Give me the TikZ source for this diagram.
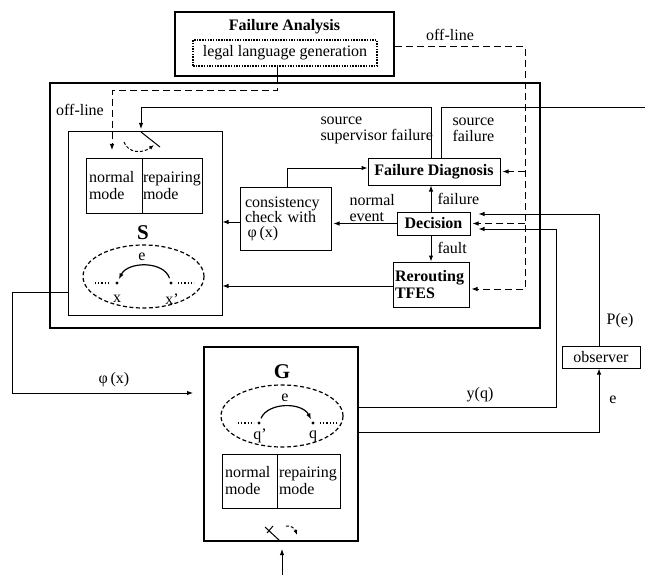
\documentclass[tikz,border=0pt]{standalone}
\usepackage{fontspec}
\setmainfont{Liberation Serif}
\usetikzlibrary{arrows.meta,shapes.geometric}

\newcommand{\dfont}{\fontsize{16}{17}\selectfont}

\begin{document}
\begin{tikzpicture}[x=1pt, y=-1pt, font=\dfont, line width=1pt,
	box/.style={draw, line width=1pt, inner sep=0pt},
	heavybox/.style={draw, line width=2pt, inner sep=0pt},
	modebox/.style={box, minimum height=55pt, align=left, inner xsep=3pt},
	tag/.style={font=\fontsize{21}{21}\selectfont\bfseries},
	ar/.style={-{Latex[length=6pt,width=4.5pt]}},
	offline/.style={dash pattern=on 7pt off 4pt},
	state/.style={circle, fill, inner sep=0pt, minimum size=3.2pt},
	loopset/.style={draw, ellipse, dash pattern=on 4pt off 2.5pt, line width=1.2pt}]
	\useasboundingbox (0,0) rectangle (645,575);

	% failure analysis (off-line part)
	\node[heavybox, minimum width=219pt, minimum height=64pt] (fa) at (284.5,44) {};
	\node[font=\dfont\bfseries] (fatitle) at (284.5,27) {Failure Analysis};
	\node[box, dash pattern=on 1.5pt off 1.2pt, line width=1.2pt, minimum width=184pt, minimum height=26pt] (llg) at (285,53) {legal language generation};

	% supervisor frame
	\node[heavybox, minimum width=490pt, minimum height=245pt] (sup) at (295,205.5) {};
	\node[box, minimum width=154pt, minimum height=183pt] (sbox) at (145,223.5) {};
	\node[modebox, minimum width=56pt, text width=50pt] (snorm) at (114,185.5) {normal\\mode};
	\node[modebox, minimum width=60pt, text width=58pt, inner xsep=1pt] (srep) at (172,185.5) {repairing\\mode};
	\node[tag] (slabel) at (143,233) {S};
	\node[loopset, minimum width=121pt, minimum height=63pt] (sset) at (143.5,276.5) {};
	\node[state] (x) at (117,283) {};
	\node[state] (xp) at (171,283) {};
	\node (xl) at (117,299) {x};
	\node (xpl) at (172,299) {x'};
	\node (se) at (142,257) {e};
	\draw[ar, line width=1.2pt, shorten <=3pt, shorten >=2pt] (xp) .. controls (164,261) and (128,261) .. (x);
	\draw[dotted, line width=1.2pt] (95,283) -- (110,283);
	\draw[dotted, line width=1.2pt] (178,283) -- (194,283);

	% switch on S
	\draw (141,132) -- (160,147);
	\draw[offline, dash pattern=on 3pt off 2pt, -{Latex[length=5pt,width=4pt]}] (124,142) .. controls (128,153) and (142,154) .. (154,145);

	\node[box, minimum width=91pt, minimum height=63pt, text width=81pt, inner xsep=5pt, align=left, font=\fontsize{16}{14.5}\selectfont] (cons) at (285.5,218.5) {consistency\\check with\\\,φ\,(x)};
	\node[box, minimum width=132pt, minimum height=27pt, font=\dfont\bfseries] (fd) at (434,171.5) {Failure Diagnosis};
	\node[box, minimum width=73pt, minimum height=23pt, font=\dfont\bfseries] (dec) at (433.5,223.5) {Decision};
	\node[box, minimum width=76pt, minimum height=45pt, text width=72pt, inner xsep=2pt, align=left, font=\dfont\bfseries] (rr) at (431,284.5) {Rerouting\\TFES};

	% plant
	\node[heavybox, minimum width=154pt, minimum height=194pt] (g) at (281,444) {};
	\node[tag] (glabel) at (282,372) {G};
	\node[loopset, minimum width=122pt, minimum height=62pt] (gset) at (282,416) {};
	\node[state] (qp) at (259,423) {};
	\node[state] (q) at (313,423) {};
	\node (qpl) at (260,436) {q'};
	\node (ql) at (313,436) {q};
	\node (ge) at (285,398) {e};
	\draw[ar, line width=1.2pt, shorten <=3pt, shorten >=2pt] (qp) .. controls (268,402) and (302,402) .. (q);
	\draw[dotted, line width=1.2pt] (238,423) -- (254,423);
	\draw[dotted, line width=1.2pt] (320,423) -- (337,423);
	\node[modebox, minimum width=55pt, minimum height=54pt, text width=49pt] (gnorm) at (249.5,481) {normal\\mode};
	\node[modebox, minimum width=63pt, minimum height=54pt, text width=59pt, inner xsep=2pt] (grep) at (308.5,481) {repairing\\mode};

	% switch on G
	\draw (280,541) -- (265,527);
	\draw (267,533) -- (273,526);
	\draw[dash pattern=on 3pt off 2pt, -{Latex[length=5pt,width=4pt]}] (286,526) .. controls (291,525) and (295,529) .. (297,535);

	\node[box, minimum width=78pt, minimum height=22pt] (obs) at (601,357) {observer};

	% off-line links
	\coordinate (offl) at (277,91);
	\coordinate (offc) at (112,91);
	\coordinate (sin) at (112,150);
	\draw (llg.south -| offl) -- (fa.south -| offl);
	\draw[offline, ar] (fa.south -| offl) -- (offl) -- (offc) -- (sin);
	\node (offlab) at (80,110) {off-line};
	\coordinate (offr) at (525,47);
	\coordinate (dbot) at (525,289);
	\draw[offline, ar] (fa.east |- offr) -- (offr) -- (dbot) -- ([xshift=2pt]rr.east |- dbot);
	\draw[offline, ar] (offr |- fd.east) -- ([xshift=2pt]fd.east);
	\draw[offline, ar] (offr |- dec.east) -- ([xshift=2pt]dec.east);
	\node (offrlab) at (450,35) {off-line};

	% failure sources
	\coordinate (ssrc) at (431,108);
	\coordinate (spiv) at (141,132);
	\draw[ar, shorten >=3pt] (fd.north -| ssrc) -- (ssrc) -| (spiv);
	\node[align=left, anchor=west, font=\fontsize{16}{16}\selectfont, inner sep=0pt] (sslab) at (320,130) {source\\supervisor failure};
	\coordinate (fsrc) at (441,108);
	\coordinate (fout) at (645,108);
	\draw (fd.north -| fsrc) -- (fsrc) -- (fout);
	\node[align=left, anchor=west, font=\fontsize{16}{16}\selectfont, inner sep=0pt] (fslab) at (452,130) {source\\failure};

	% supervisor inner links
	\coordinate (ccor) at (287,168);
	\draw[ar] (cons.north -| ccor) -- (ccor) -- (fd.west |- ccor);
	\coordinate (cs) at (240,222);
	\draw[ar] (cons.west |- cs) -- (sbox.east |- cs);
	\draw[ar, shorten >=2pt] (dec.west) -- (cons.east |- dec.west);
	\node[align=left, anchor=west, font=\fontsize{16}{16}\selectfont, inner sep=0pt] (nelab) at (349,208) {normal\\event};
	\draw[ar] (dec.north -| ssrc) -- (fd.south -| ssrc);
	\node[anchor=west, inner sep=0pt] (flab) at (437,199) {failure};
	\draw[ar] (dec.south -| ssrc) -- (rr.north -| ssrc);
	\node[anchor=west, inner sep=0pt] (ftlab) at (437,248) {fault};
	\coordinate (rs) at (394,286);
	\draw[ar] (rr.west |- rs) -- (sbox.east |- rs);

	% loop between S and G
	\coordinate (phia) at (12,292);
	\coordinate (phib) at (12,393);
	\draw[ar, shorten >=10pt] (sbox.west |- phia) -- (phia) -- (phib) -- (g.west |- phib);
	\node (phlab) at (114,380) {φ\,(x)};
	\coordinate (yqb) at (556,407);
	\coordinate (yqt) at (556,229);
	\draw[ar, shorten >=8pt] (g.east |- yqb) -- (yqb) -- (yqt) -- (dec.east |- yqt);
	\node (yqlab) at (480,395) {y(q)};
	\coordinate (eb) at (599,432);
	\draw[ar] (g.east |- eb) -- (eb) -- (obs.south -| eb);
	\node (elab) at (613,400) {e};
	\coordinate (pet) at (599,214);
	\draw[ar, shorten >=8pt] (obs.north -| pet) -- (pet) -- (dec.east |- pet);
	\node (pelab) at (620,321) {P(e)};
	\coordinate (gin) at (282,575);
	\draw[ar, shorten >=7pt] (gin) -- (g.south -| gin);
\end{tikzpicture}
\end{document}
